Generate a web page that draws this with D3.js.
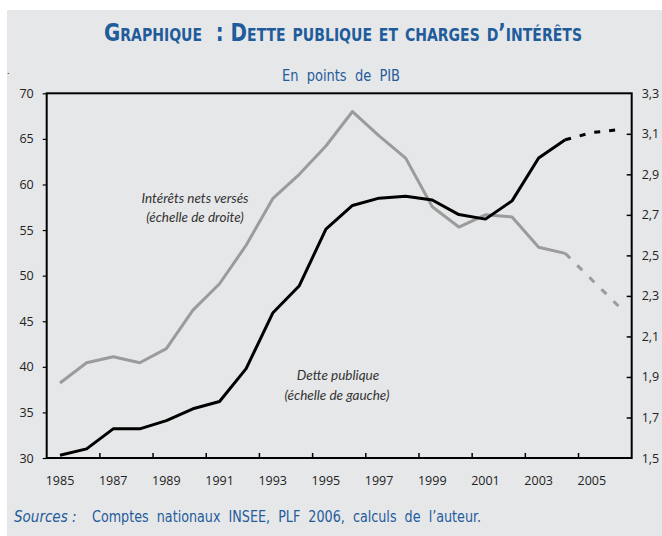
<!DOCTYPE html>
<html>
<head>
<meta charset="utf-8">
<script src="https://cdn.jsdelivr.net/npm/d3@7"></script>
<style>
  html, body { margin: 0; padding: 0; background: #ffffff; }
  svg { display: block; }
  svg text { white-space: pre; }
</style>
</head>
<body>
<svg id="chart" width="662" height="536"></svg>
<script>
// ---- data ----
const years = [1985, 1986, 1987, 1988, 1989, 1990, 1991, 1992, 1993, 1994, 1995,
               1996, 1997, 1998, 1999, 2000, 2001, 2002, 2003, 2004, 2005, 2006];
// Dette publique, % du PIB (échelle de gauche)
const debt = [30.3, 31.0, 33.2, 33.2, 34.1, 35.4, 36.2, 39.8, 45.9, 48.9, 55.1,
              57.7, 58.5, 58.7, 58.3, 56.7, 56.2, 58.2, 62.9, 64.9, 65.7, 66.0];
// Intérêts nets versés, % du PIB (échelle de droite)
const interest = [1.87, 1.97, 2.00, 1.97, 2.04, 2.23, 2.36, 2.55, 2.78, 2.90, 3.04,
                  3.21, 3.09, 2.98, 2.74, 2.64, 2.70, 2.69, 2.54, 2.51, 2.38, 2.25];
const lastActualYear = 2004;
const leftTicks = [30, 35, 40, 45, 50, 55, 60, 65, 70];
const rightTicks = [1.5, 1.7, 1.9, 2.1, 2.3, 2.5, 2.7, 2.9, 3.1, 3.3];
const xLabelYears = [1985, 1987, 1989, 1991, 1993, 1995, 1997, 1999, 2001, 2003, 2005];
const xTickYears = [1987, 1989, 1991, 1993, 1995, 1997, 1999, 2001, 2003, 2005];

// ---- layout ----
const svg = d3.select("#chart");
const W = 662, H = 536;
const plot = { left: 46.7, right: 631.7, top: 93.3, bottom: 458 };
const blue = "#1f5c9b";
const gray = "#9b9b9b";
const bg = "#e6e7e9";

svg.append("rect").attr("x", 7).attr("y", 10).attr("width", W - 7).attr("height", H - 10).attr("fill", bg);

const x = d3.scaleBand().domain(years).range([plot.left, plot.right]).padding(0);
const xc = y => x(y) + x.bandwidth() / 2;
const yL = d3.scaleLinear().domain([30, 70]).range([plot.bottom, plot.top]);
const yR = d3.scaleLinear().domain([1.5, 3.3]).range([plot.bottom, plot.top]);

// ---- titles ----
svg.append("text")
  .attr("x", 104).attr("y", 41)
  .attr("textLength", 478).attr("lengthAdjust", "spacingAndGlyphs")
  .attr("font-family", "'DejaVu Sans Condensed', 'DejaVu Sans', sans-serif")
  .attr("font-weight", "bold").attr("font-size", 24)
  .style("font-variant", "small-caps")
  .attr("fill", blue)
  .text("Graphique  : Dette publique et charges d’intérêts");

svg.append("text")
  .attr("x", 282).attr("y", 81)
  .attr("textLength", 118).attr("lengthAdjust", "spacingAndGlyphs")
  .attr("font-family", "'DejaVu Sans Condensed', 'DejaVu Sans', sans-serif")
  .attr("font-size", 16)
  .attr("fill", blue)
  .text("En  points  de  PIB");

svg.append("text").attr("x", 7).attr("y", 74).attr("font-size", 10).attr("fill", "#333").text(".");

// ---- axes ----
const gL = svg.append("g").attr("transform", `translate(${plot.left},0)`)
  .call(d3.axisLeft(yL).tickValues(leftTicks).tickSize(4).tickPadding(9).tickFormat(d3.format("d")));
const gR = svg.append("g").attr("transform", `translate(${plot.right},0)`)
  .call(d3.axisRight(yR).tickValues(rightTicks).tickSizeInner(-5).tickSizeOuter(0).tickPadding(10)
        .tickFormat(d => d.toFixed(1).replace(".", ",")));
const gB = svg.append("g").attr("transform", `translate(0,${plot.bottom})`)
  .call(d3.axisBottom(x).tickValues(xLabelYears).tickSize(0).tickPadding(18).tickFormat(d3.format("d")));

[gL, gR, gB].forEach(g => {
  g.select(".domain").remove();
  g.selectAll("text")
    .attr("font-family", "'Open Sans', 'DejaVu Sans', sans-serif")
    .attr("font-size", 12.5).attr("fill", "#222");
  g.selectAll(".tick line").attr("stroke", "#000").attr("stroke-width", 1.5);
});
gR.selectAll(".tick line").filter(d => d === 1.5 || d === 3.3).remove();
gL.selectAll(".tick line").attr("stroke-width", 1.2);

// bottom ticks at band boundaries (pointing up)
svg.append("g").selectAll("line").data(xTickYears).join("line")
  .attr("x1", d => x(d)).attr("x2", d => x(d))
  .attr("y1", plot.bottom).attr("y2", plot.bottom - 5)
  .attr("stroke", "#000").attr("stroke-width", 1.5);

// frame
svg.append("rect")
  .attr("x", plot.left).attr("y", plot.top)
  .attr("width", plot.right - plot.left).attr("height", plot.bottom - plot.top)
  .attr("fill", "none").attr("stroke", "#000").attr("stroke-width", 2);

// ---- lines ----
const idxLast = years.indexOf(lastActualYear);
function drawSeries(values, yScale, color, dash) {
  const pts = years.map((yr, i) => [xc(yr), yScale(values[i])]);
  const line = d3.line();
  svg.append("path").attr("d", line(pts.slice(0, idxLast + 1)))
    .attr("fill", "none").attr("stroke", color).attr("stroke-width", 3)
    .attr("stroke-linejoin", "round");
  svg.append("path").attr("d", line(pts.slice(idxLast)))
    .attr("fill", "none").attr("stroke", color).attr("stroke-width", 3)
    .attr("stroke-dasharray", dash);
}
drawSeries(interest, yR, gray, "7,10");
drawSeries(debt, yL, "#000", "6,9");

// ---- annotations ----
const ann = svg.append("g")
  .attr("font-family", "Lato, 'Open Sans', sans-serif")
  .attr("font-style", "italic").attr("font-size", 13.5).attr("fill", "#333")
  .attr("text-anchor", "middle");
ann.append("text").attr("x", 195).attr("y", 203).text("Intérêts nets versés");
ann.append("text").attr("x", 195).attr("y", 222).text("(échelle de droite)");
ann.append("text").attr("x", 338).attr("y", 380).text("Dette publique");
ann.append("text").attr("x", 337).attr("y", 400).text("(échelle de gauche)");

// ---- sources ----
const src = svg.append("text")
  .attr("x", 14).attr("y", 522)
  .attr("font-family", "'DejaVu Sans Condensed', 'DejaVu Sans', sans-serif")
  .attr("font-size", 15).attr("fill", blue);
src.append("tspan").attr("font-style", "italic").text("Sources :");
src.append("tspan").attr("x", 92)
  .attr("textLength", 389).attr("lengthAdjust", "spacingAndGlyphs")
  .text("Comptes  nationaux  INSEE,  PLF  2006,  calculs  de  l’auteur.");
</script>
</body>
</html>
